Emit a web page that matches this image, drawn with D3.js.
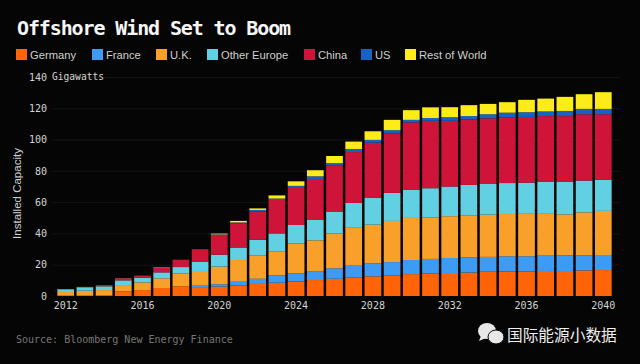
<!DOCTYPE html>
<html lang="en">
  <head>
    <meta charset="UTF-8" />
    <title>Offshore Wind Set to Boom</title>
    <style>
      html, body { margin: 0; padding: 0; background: #050505; }
      svg { display: block; }
      text { font-family: "DejaVu Sans Mono", monospace; }
      .domain { display: none; }
    </style>
  </head>
  <body>
    <div class="windChart"></div>
    <script src="https://d3js.org/d3.v7.min.js"></script>
    <script>
      const years = d3.range(2012, 2041);
      const seriesNames = ["Germany", "France", "U.K.", "Other Europe", "China", "US", "Rest of World"];
      const seriesColors = ["#ff6408", "#3d9bf3", "#f9a02b", "#62d0e3", "#cf1439", "#1763c4", "#fdec1a"];
      const yTicks = [0, 20, 40, 60, 80, 100, 120, 140];
      const xTicks = [2012, 2016, 2020, 2024, 2028, 2032, 2036, 2040];

      // GW added by each region on top of the stack
      const germany = [0.2, 0.2, 0.3, 3, 3.8, 5.1, 6.2, 5.7, 6, 6.8, 7.7, 8.5, 9.2, 10.2, 11, 11.7, 12.6, 13.2, 14, 14.3, 14.7, 15, 15.5, 15.6, 15.6, 16, 16, 16.4, 16.6];
      const france = [0, 0, 0, 0, 0, 0, 0, 0.9, 1.5, 2.8, 3.3, 4.7, 5.3, 5.4, 6.7, 7.7, 8.3, 8.5, 9, 9.4, 9.6, 9.7, 9.5, 9.8, 9.8, 9.8, 10, 9.6, 9.6];
      const uk = [3, 3.2, 3.5, 4, 4.9, 6.2, 8.3, 9.4, 11.3, 13.4, 14.8, 15.4, 19, 20, 22.2, 24.6, 24.7, 26.3, 26.9, 26.6, 26.7, 26.9, 27, 27, 27.1, 26.7, 26.2, 27.5, 28.2];
      const otherEurope = [0.8, 2.1, 2.4, 3, 3, 3.8, 4, 6, 7.6, 8, 10.2, 11.4, 11.9, 13, 13.8, 15.5, 17.3, 17.9, 18.1, 18.6, 19, 19.4, 19.6, 19.8, 20, 20.4, 20.7, 20.3, 19.8];
      const china = [0.1, 0.1, 0.8, 1.3, 1.1, 2.8, 4.7, 7.4, 12.6, 15.5, 18.2, 21.4, 24.3, 26.2, 29.9, 32.5, 35.1, 38.1, 43, 43.1, 42, 41.8, 42, 42, 42, 42.1, 42.1, 42.4, 42];
      const us = [0, 0, 0, 0, 0, 0, 0, 0, 0.4, 0.5, 0.8, 0.9, 0.7, 1.7, 1.4, 2, 1.8, 2, 1.6, 1.8, 2.3, 2.2, 2.6, 3, 3, 3, 3.3, 3.4, 3.4];
      const restOfWorld = [0.3, 0.2, 0, 0.1, 0.1, 0.3, 0, 0.2, 0.5, 1, 1, 2, 2.9, 3.9, 4.5, 4.7, 5.5, 6.6, 6.2, 6.8, 6.4, 7, 6.6, 6.7, 7.9, 8.2, 9, 9.4, 10.7];
      const seriesValues = [germany, france, uk, otherEurope, china, us, restOfWorld];
      const legendX = [16, 92, 156, 207, 304, 361, 405];

      const drawWindChart = () => {
        const svgWidth = 640,
          svgHeight = 364;

        const svg = d3
          .select(".windChart")
          .append("svg")
          .attr("width", svgWidth)
          .attr("height", svgHeight);

        // title
        svg
          .append("text")
          .attr("x", 17)
          .attr("y", 35)
          .attr("fill", "#f6f6f6")
          .attr("font-size", 20)
          .attr("font-weight", "bold")
          .attr("letter-spacing", -1.12)
          .text("Offshore Wind Set to Boom");

        // legend
        const legend = svg
          .append("g")
          .selectAll("g")
          .data(seriesNames)
          .join("g")
          .attr("transform", (d, i) => `translate(${legendX[i]}, 49)`);

        legend
          .append("rect")
          .attr("width", 11)
          .attr("height", 11)
          .attr("fill", (d, i) => seriesColors[i]);

        legend
          .append("text")
          .attr("x", 14)
          .attr("y", 10)
          .attr("fill", "#d0d0d0")
          .attr("font-size", 11.2)
          .attr("style", 'font-family: "Liberation Sans"')
          .text((d) => d);

        // scales
        const xScale = d3
          .scaleBand()
          .domain(years)
          .range([56.1, 612.9])
          .paddingInner(0.13)
          .paddingOuter(0.065);

        const yScale = d3.scaleLinear().domain([0, 140]).range([296, 77]);

        // y axis with faint grid lines
        const yAxis = svg
          .append("g")
          .attr("transform", "translate(50, 0)")
          .call(
            d3
              .axisLeft(yScale)
              .tickValues(yTicks)
              .tickSize(0)
              .tickPadding(3)
          );
        yAxis.selectAll("text").attr("fill", "#d4d4d4").attr("font-size", 10).attr("font-family", '"DejaVu Sans Mono", monospace');
        yAxis
          .selectAll("line")
          .attr("x1", 2)
          .attr("x2", 570)
          .attr("stroke", "#171313");
        yAxis.selectAll(".tick").filter((d) => d === 0).select("line").attr("stroke", "none");

        svg
          .append("text")
          .attr("x", 52)
          .attr("y", 80)
          .attr("fill", "#d4d4d4")
          .attr("font-size", 9.6)
          .text("Gigawatts");

        svg
          .append("text")
          .attr("transform", "translate(21, 193.5) rotate(-90)")
          .attr("text-anchor", "middle")
          .attr("fill", "#d0d0d0")
          .attr("font-size", 11.5)
          .attr("style", 'font-family: "Liberation Sans"')
          .text("Installed Capacity");

        // stacked bars
        const rows = years.map((year, i) => {
          const row = { year };
          seriesNames.forEach((name, s) => (row[name] = seriesValues[s][i]));
          return row;
        });
        const stacked = d3.stack().keys(seriesNames)(rows);

        svg
          .append("g")
          .selectAll("g")
          .data(stacked)
          .join("g")
          .attr("fill", (d, i) => seriesColors[i])
          .selectAll("rect")
          .data((d) => d)
          .join("rect")
          .attr("x", (d) => xScale(d.data.year))
          .attr("y", (d) => yScale(d[1]))
          .attr("width", xScale.bandwidth())
          .attr("height", (d) => yScale(d[0]) - yScale(d[1]));

        // x axis
        const xAxis = svg
          .append("g")
          .attr("transform", "translate(0, 296)")
          .call(d3.axisBottom(xScale).tickValues(xTicks).tickSize(0).tickPadding(6));
        xAxis.selectAll("text").attr("fill", "#d4d4d4").attr("font-size", 10).attr("font-family", '"DejaVu Sans Mono", monospace');

        // source
        svg
          .append("text")
          .attr("x", 16)
          .attr("y", 343)
          .attr("fill", "#777777")
          .attr("font-size", 10)
          .text("Source: Bloomberg New Energy Finance");

        // wechat watermark
        const mark = svg.append("g").attr("fill", "#e8e8e8");
        mark.append("ellipse").attr("cx", 487).attr("cy", 331).attr("rx", 9).attr("ry", 8);
        mark.append("path").attr("d", "M481 336 l-2 5 l7 -3 z");
        mark.append("ellipse").attr("cx", 496).attr("cy", 337).attr("rx", 8).attr("ry", 7).attr("stroke", "#050505");
        svg
          .append("text")
          .attr("x", 507)
          .attr("y", 341)
          .attr("fill", "#f0f0f0")
          .attr("font-size", 15.7)
          .attr("style", 'font-family: "Noto Sans CJK SC"')
          .text("国际能源小数据");
      };

      drawWindChart();
    </script>
  </body>
</html>
